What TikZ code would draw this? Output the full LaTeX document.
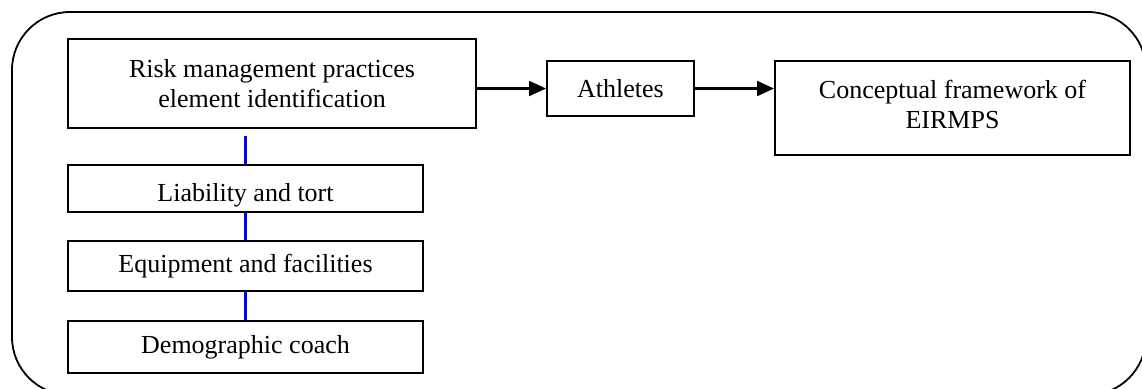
\documentclass[tikz,border=0pt]{standalone}
\usepackage{fontspec}
\setmainfont{Liberation Serif}
\usepackage{tikz}
\usetikzlibrary{positioning,arrows.meta}

\begin{document}
\begin{tikzpicture}[x=0.5pt, y=-0.5pt,
    every node/.style={font=\fontsize{13pt}{15pt}\selectfont, align=center},
    elembox/.style={draw, line width=1pt, inner sep=0pt},
    link/.style={draw=blue, line width=1.4pt},
    flow/.style={line width=1.1pt, -{Triangle[length=8.5pt,width=7.5pt]}}]
\useasboundingbox (0,0) rectangle (1142,388);
\clip (0,0) rectangle (1142,388);
\draw[line width=0.9pt, rounded corners=29pt] (12,12) rectangle (1146,395);

\node[elembox, minimum width=204pt, minimum height=44.5pt] (risk) at (272,83.5)
    {Risk management practices\\ element identification};
\node[elembox, minimum width=177.5pt, minimum height=23.5pt, text height=13pt, text depth=0pt] (liab) at (245.5,188.5)
    {Liability and tort};
\node[elembox, minimum width=177.5pt, minimum height=25pt] (equip) at (245.5,266)
    {Equipment and facilities};
\node[elembox, minimum width=177.5pt, minimum height=26pt] (demo) at (245.5,347)
    {Demographic coach};
\node[elembox, minimum width=73.5pt, minimum height=27.5pt] (ath) at (620.5,88.5)
    {Athletes};
\node[elembox, minimum width=177.5pt, minimum height=47pt, text depth=4pt] (frame) at (952.5,108)
    {Conceptual framework of\\ EIRMPS};

% element chain
\draw[link, shorten <=3.5pt] (risk.south -| liab.north) -- (liab.north);
\draw[link] (liab.south) -- (equip.north);
\draw[link] (equip.south) -- (demo.north);

% flow to framework
\draw[flow] (risk.east |- ath.west) -- (ath.west);
\draw[flow] (ath.east) -- (frame.west |- ath.east);
\end{tikzpicture}
\end{document}
